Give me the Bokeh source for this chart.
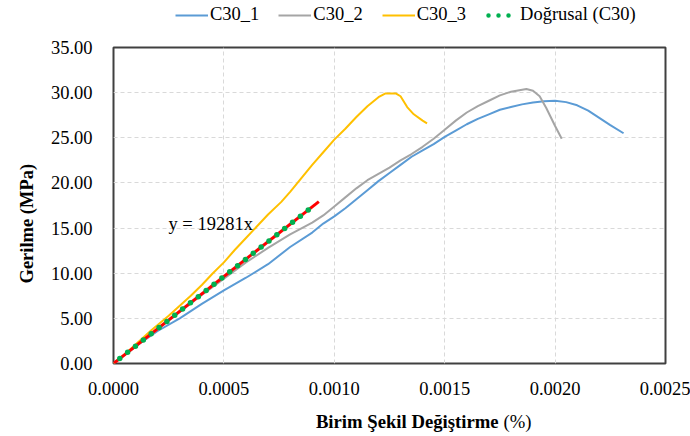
from bokeh.plotting import figure
from bokeh.layouts import column
from bokeh.models import (Range1d, FixedTicker, NumeralTickFormatter, Legend, LegendItem, Label, Title)
from bokeh.core.properties import value
from bokeh.embed import file_html
from bokeh.resources import INLINE

# ---- data ----
c30_1_x = [0.0, 0.0001, 0.0002, 0.0003, 0.0004, 0.0005, 0.0006, 0.0007, 0.0008, 0.0009,
           0.00095, 0.0010, 0.00105, 0.0011, 0.00115, 0.0012, 0.00125, 0.0013, 0.00135,
           0.0014, 0.00145, 0.0015, 0.00155, 0.0016, 0.00165, 0.0017, 0.00175, 0.0018,
           0.00185, 0.0019, 0.00195, 0.0020, 0.00205, 0.0021, 0.00215, 0.0022, 0.00225, 0.00231]
c30_1_y = [0.0, 1.9, 3.6, 5.0, 6.6, 8.1, 9.5, 11.0, 12.9, 14.5,
           15.5, 16.3, 17.2, 18.2, 19.2, 20.2, 21.1, 22.0, 22.9,
           23.6, 24.3, 25.1, 25.8, 26.5, 27.1, 27.6, 28.1, 28.4,
           28.7, 28.9, 29.05, 29.1, 28.95, 28.6, 28.0, 27.2, 26.4, 25.5]

c30_2_x = [0.0, 0.0001, 0.0002, 0.0003, 0.0004, 0.0005, 0.0006, 0.0007, 0.0008, 0.0009,
           0.00095, 0.0010, 0.00105, 0.0011, 0.00115, 0.0012, 0.00125, 0.0013, 0.00135,
           0.0014, 0.00145, 0.0015, 0.00155, 0.0016, 0.00165, 0.0017, 0.00175, 0.0018,
           0.00187, 0.0019, 0.00193, 0.00196, 0.0020, 0.00203]
c30_2_y = [0.0, 1.85, 3.8, 5.7, 7.6, 9.4, 11.2, 12.8, 14.3, 15.6,
           16.4, 17.4, 18.4, 19.4, 20.3, 21.0, 21.7, 22.5, 23.2,
           24.0, 24.9, 25.9, 26.9, 27.8, 28.5, 29.1, 29.7, 30.1,
           30.4, 30.2, 29.6, 28.3, 26.3, 24.9]

c30_3_x = [0.0, 0.00005, 0.0001, 0.00017, 0.00025, 0.00035, 0.0004, 0.00045, 0.0005, 0.00055,
           0.0006, 0.00065, 0.0007, 0.00076, 0.0008, 0.00085, 0.0009, 0.00095, 0.0010,
           0.00105, 0.0011, 0.00115, 0.0012, 0.00123, 0.00128, 0.0013, 0.00133, 0.00136,
           0.0014, 0.00142]
c30_3_y = [0.0, 1.0, 2.1, 3.65, 5.3, 7.5, 8.7, 10.0, 11.2, 12.6,
           13.9, 15.2, 16.5, 17.9, 19.0, 20.5, 22.0, 23.4, 24.8,
           26.0, 27.3, 28.5, 29.5, 29.9, 29.9, 29.6, 28.4, 27.6,
           26.9, 26.6]

# linear trendline y = 19281x (Doğrusal)
trend_x = [0.0, 0.000905]
trend_y = [0.0, 17.45]
fit_x = [0.0, 0.00093]
fit_y = [0.0, 17.93]

x_ticks = [0.0, 0.0005, 0.0010, 0.0015, 0.0020, 0.0025]
y_ticks = [0, 5, 10, 15, 20, 25, 30, 35]

series_names = ["C30_1", "C30_2", "C30_3", "Doğrusal (C30)"]
colors = ["#5B9BD5", "#A5A5A5", "#FFC000", "#00B050"]
equation = "y = 19281x"
x_title_bold = "Birim Şekil Değiştirme"
x_title_unit = "(%)"
y_title = "Gerilme (MPa)"

FONT = "Liberation Serif"
FS = "18.5px"

x_range = Range1d(0, 0.0025)

# ---------- top strip: legend (series drawn off-view, only the legend shows) ----------
p0 = figure(width=690, height=30, output_backend="svg", toolbar_location=None,
            x_axis_type=None, y_axis_type=None,
            min_border_left=113, min_border_right=25, min_border_top=0, min_border_bottom=0,
            x_range=x_range, y_range=Range1d(100, 101))
p0.outline_line_color = None
p0.xgrid.visible = False
p0.ygrid.visible = False
d1 = p0.line(c30_1_x, c30_1_y, line_color=colors[0], line_width=2)
d2 = p0.line(c30_2_x, c30_2_y, line_color=colors[1], line_width=2)
d3 = p0.line(c30_3_x, c30_3_y, line_color=colors[2], line_width=2)
d4 = p0.line(trend_x, trend_y, line_color=colors[3], line_width=4.5, line_dash="0 10",
             line_cap="round", line_dash_offset=-3)
legend = Legend(items=[LegendItem(label=series_names[0], renderers=[d1]),
                       LegendItem(label=series_names[1], renderers=[d2]),
                       LegendItem(label=series_names[2], renderers=[d3]),
                       LegendItem(label=series_names[3], renderers=[d4])],
                orientation="horizontal", location=(62, 5),
                label_text_font=FONT, label_text_font_size=FS, label_text_color="#000000",
                glyph_width=33, glyph_height=20, label_height=20, label_standoff=2, spacing=19,
                padding=0, margin=0, border_line_color=None, background_fill_alpha=0)
p0.add_layout(legend)

# ---------- main chart ----------
p = figure(width=690, height=370, output_backend="svg", toolbar_location=None,
           x_range=x_range, y_range=Range1d(0, 35),
           min_border_left=113, min_border_right=25, min_border_top=17, min_border_bottom=37)

p.background_fill_color = "white"
p.border_fill_color = "white"
p.outline_line_color = "#404040"
p.outline_line_width = 2

for ax in (p.xaxis[0], p.yaxis[0]):
    ax.axis_line_color = None
    ax.major_tick_line_color = None
    ax.minor_tick_line_color = None
    ax.major_label_text_font = FONT
    ax.major_label_text_font_size = FS
    ax.major_label_text_color = "#000000"

p.xaxis[0].ticker = FixedTicker(ticks=x_ticks)
p.yaxis[0].ticker = FixedTicker(ticks=y_ticks)
p.xaxis[0].formatter = NumeralTickFormatter(format="0.0000")
p.yaxis[0].formatter = NumeralTickFormatter(format="0.00")
p.xaxis[0].major_label_standoff = 12
p.yaxis[0].major_label_standoff = 15

# y-axis title, sitting a little below the frame centre as in the reference
p.add_layout(Title(text=y_title, text_font=FONT, text_font_size=FS, text_font_style="bold",
                   text_color="#000000", align="left", offset=80, standoff=22), "left")

p.xgrid[0].ticker = FixedTicker(ticks=x_ticks)
p.ygrid[0].ticker = FixedTicker(ticks=y_ticks)
for g in (p.xgrid[0], p.ygrid[0]):
    g.grid_line_color = "#D9D9D9"
    g.grid_line_dash = "4 3"
    g.grid_line_width = 1

p.line(c30_1_x, c30_1_y, line_color=colors[0], line_width=2)
p.line(c30_2_x, c30_2_y, line_color=colors[1], line_width=2)
p.line(c30_3_x, c30_3_y, line_color=colors[2], line_width=2)
p.line(fit_x, fit_y, line_color="#FF0000", line_width=3)
p.line(trend_x, trend_y, line_color=colors[3], line_width=5.5,
       line_dash="0 10", line_cap="round", line_dash_offset=-8)

p.add_layout(Label(x=0.000249, y=15.5, text=equation, text_font=FONT,
                   text_font_size=FS, text_baseline="middle", text_align="left",
                   text_color="#000000"))

# ---------- bottom strip: x-axis title (bold + normal) ----------
p2 = figure(width=690, height=36, output_backend="svg", toolbar_location=None,
            x_axis_type=None, y_axis_type=None,
            min_border_left=113, min_border_right=25, min_border_top=0, min_border_bottom=0,
            x_range=x_range, y_range=Range1d(36, 0))
p2.outline_line_color = None
p2.xgrid.visible = False
p2.ygrid.visible = False
p2.text(x=[0.001744], y=[21], text=[x_title_bold], text_font=value(FONT),
        text_font_size=value("18.7px"), text_font_style="bold", text_align="right",
        text_baseline="middle", text_color="#000000")
p2.text(x=[0.001766], y=[21], text=[x_title_unit], text_font=value(FONT),
        text_font_size=value("18.7px"), text_align="left",
        text_baseline="middle", text_color="#000000")

layout = column(p0, p, p2, spacing=0)
open("out.html", "w").write(file_html(layout, INLINE))
